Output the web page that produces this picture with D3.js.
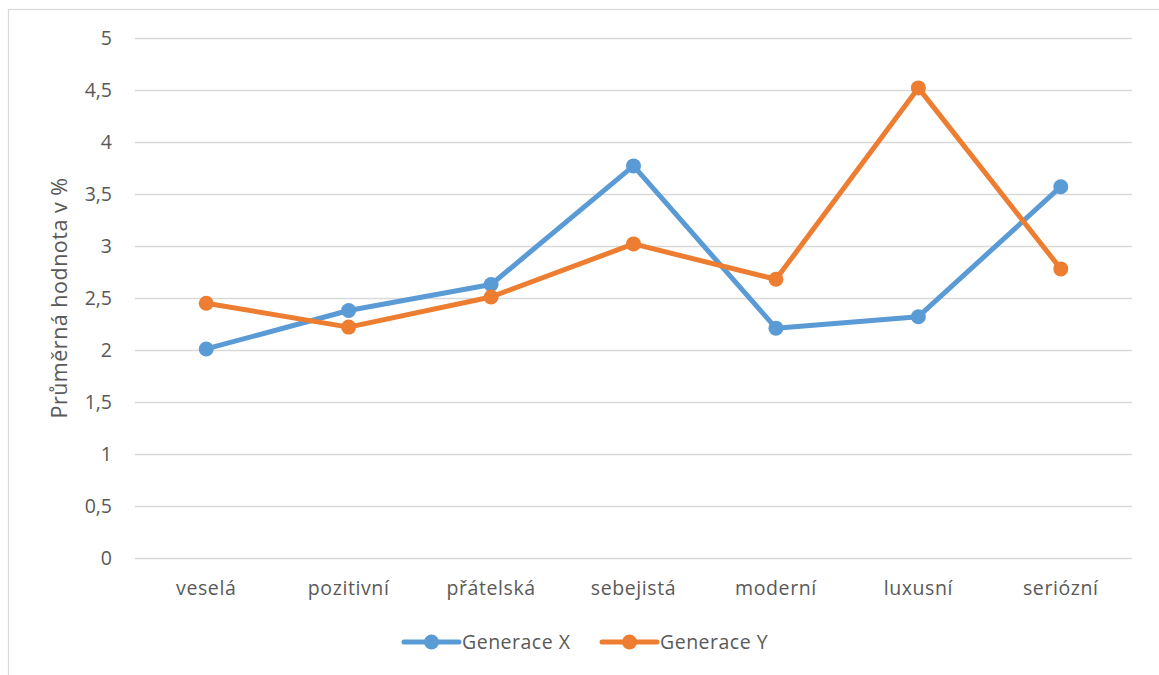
<!DOCTYPE html>
<html>
<head>
<meta charset="utf-8">
<script src="https://cdn.jsdelivr.net/npm/d3@7"></script>
<style>
  html, body { margin: 0; padding: 0; background: #fff; }
  svg { display: block; }
  text { font-family: "Open Sans", sans-serif; fill: #595959; }
</style>
</head>
<body>
<svg id="chart" width="1159" height="675"></svg>
<script>
// Categories (brand attributes) and average scores per generation
const categories = ["veselá", "pozitivní", "přátelská", "sebejistá", "moderní", "luxusní", "seriózní"];
const generaceX = [2.01, 2.38, 2.63, 3.77, 2.21, 2.32, 3.57];
const generaceY = [2.45, 2.22, 2.51, 3.02, 2.68, 4.52, 2.78];
const yTicks = [0, 0.5, 1, 1.5, 2, 2.5, 3, 3.5, 4, 4.5, 5];
const seriesNames = ["Generace X", "Generace Y"];
const seriesColors = ["#5B9BD5", "#ED7D31"];
const yTitle = "Průměrná hodnota v %";

const FONT = "'Open Sans', sans-serif";
const FS = 19.5;

const svg = d3.select("#chart");
const W = 1159, H = 675;
const plot = { left: 135, right: 1132, top: 38, bottom: 558 };

// outer chart-area frame
svg.append("rect")
  .attr("x", 8.5).attr("y", 9.5)
  .attr("width", W + 10).attr("height", H + 10)
  .attr("fill", "none").attr("stroke", "#D9D9D9").attr("stroke-width", 1.2);

const x = d3.scaleBand().domain(categories).range([plot.left, plot.right]);
const y = d3.scaleLinear().domain([0, 5]).range([plot.bottom, plot.top]);

const fmt = v => String(v).replace(".", ",");

// horizontal gridlines + value labels
const yAxis = d3.axisLeft(y).tickValues(yTicks).tickFormat(fmt)
  .tickSize(-(plot.right - plot.left)).tickPadding(23);
const gy = svg.append("g").attr("transform", `translate(${plot.left},0)`).call(yAxis);
gy.select(".domain").remove();
gy.selectAll(".tick line").attr("stroke", "#D9D9D9").attr("stroke-width", 1.3);
gy.selectAll(".tick text").attr("font-size", FS).attr("fill", "#595959")
  .style("font-family", FONT);

// category labels
const xAxis = d3.axisBottom(x).tickSize(0).tickPadding(23);
const gx = svg.append("g").attr("transform", `translate(0,${plot.bottom})`).call(xAxis);
gx.select(".domain").remove();
gx.selectAll(".tick text").attr("font-size", FS).attr("fill", "#595959")
  .style("font-family", FONT).style("letter-spacing", "0.6px");

// y-axis title
svg.append("text")
  .attr("transform", `translate(67,${(plot.top + plot.bottom) / 2}) rotate(-90)`)
  .attr("text-anchor", "middle")
  .attr("font-size", 21.5)
  .style("letter-spacing", "0.5px")
  .text(yTitle);

// series lines and markers
const cx = c => x(c) + x.bandwidth() / 2;
[generaceX, generaceY].forEach((vals, i) => {
  const pts = categories.map((c, j) => [cx(c), y(vals[j])]);
  svg.append("path")
    .attr("d", d3.line()(pts))
    .attr("fill", "none")
    .attr("stroke", seriesColors[i])
    .attr("stroke-width", 5)
    .attr("stroke-linejoin", "round")
    .attr("stroke-linecap", "round");
  svg.append("g").selectAll("circle").data(pts).join("circle")
    .attr("cx", d => d[0]).attr("cy", d => d[1]).attr("r", 7.5)
    .attr("fill", seriesColors[i]);
});

// legend
const legendY = 642;
const legendX = [404, 602];
seriesNames.forEach((name, i) => {
  const g = svg.append("g").attr("transform", `translate(${legendX[i]},${legendY})`);
  g.append("line").attr("x1", 0).attr("x2", 55).attr("y1", 0).attr("y2", 0)
    .attr("stroke", seriesColors[i]).attr("stroke-width", 5).attr("stroke-linecap", "round");
  g.append("circle").attr("cx", 27.5).attr("cy", 0).attr("r", 7.5).attr("fill", seriesColors[i]);
  g.append("text").attr("x", 58).attr("y", 0).attr("dy", "0.35em")
    .attr("font-size", FS).style("letter-spacing", "0.5px").text(name);
});
</script>
</body>
</html>
